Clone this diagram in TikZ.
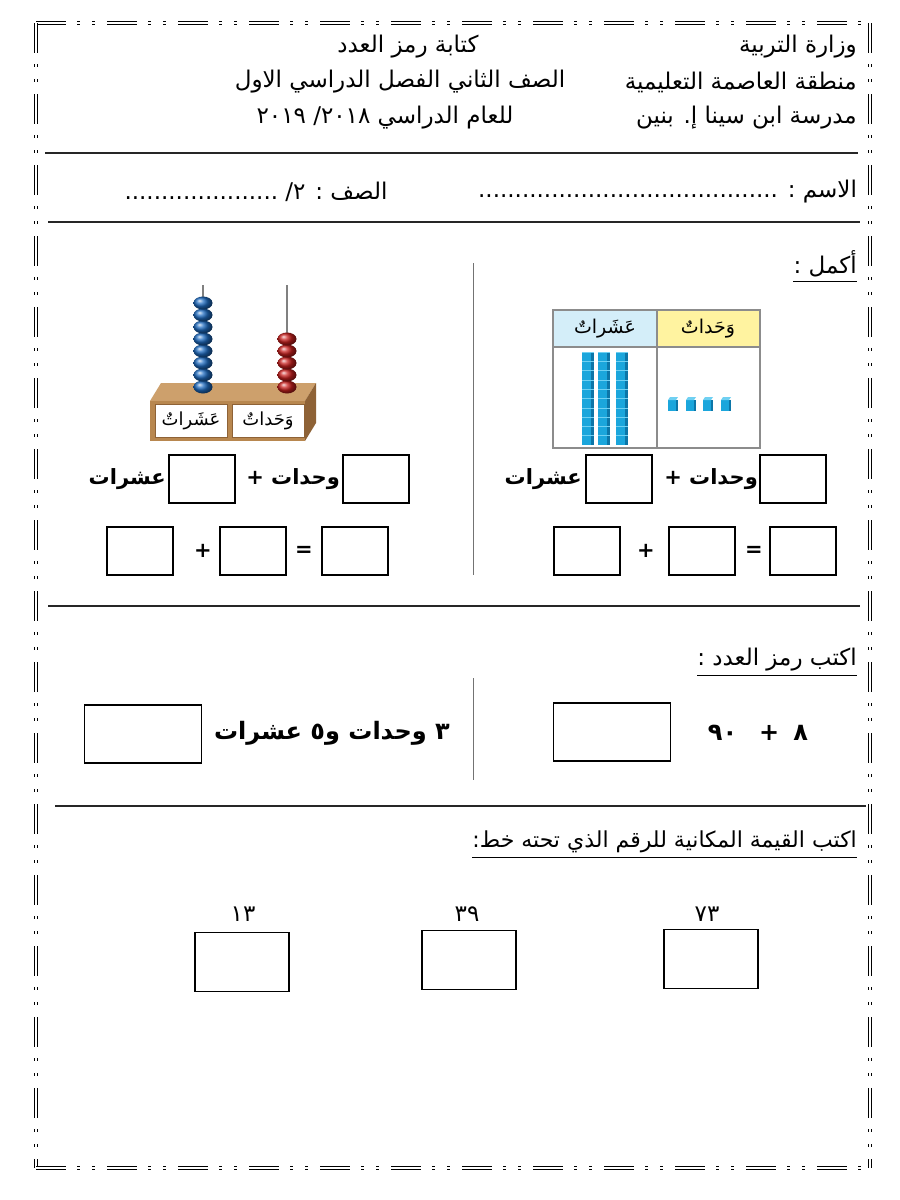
\documentclass[tikz,border=0pt]{standalone}
\usepackage{fontspec}
\usepackage{xcolor}
\newfontfamily\arabicfont[Script=Arabic]{DejaVu Sans}
\TeXXeTstate=1

\definecolor{tensbg}{HTML}{D4EEF9}
\definecolor{onesbg}{HTML}{FFF3A0}
\definecolor{cubefront}{HTML}{1BA6DC}
\definecolor{cubeside}{HTML}{0C76A8}
\definecolor{cubetop}{HTML}{6FD0F2}
\definecolor{woodfront}{HTML}{B8874F}
\definecolor{woodtop}{HTML}{CDA06C}
\definecolor{woodside}{HTML}{8E6236}
\definecolor{beadblue}{HTML}{1E6BC0}
\definecolor{beadred}{HTML}{C8201E}

\tikzset{
  frameline/.style={double, line width=1.3pt, double distance=1.2pt,
    dash pattern=on 30pt off 11pt on 3pt off 12pt on 3pt off 12pt},
  sepline/.style={line width=1.6pt, black!85},
  divline/.style={line width=0.8pt, black!55},
  gridline/.style={line width=1.3pt, black!45},
  underline/.style={line width=1.3pt},
  ar/.style={font=\arabicfont\fontsize{23}{27}\selectfont, inner sep=0pt},
  arb/.style={font=\arabicfont\bfseries\fontsize{21}{25}\selectfont, inner sep=0pt},
  arbig/.style={font=\arabicfont\bfseries\fontsize{24}{28}\selectfont, inner sep=0pt},
  arhead/.style={font=\arabicfont\fontsize{19}{23}\selectfont, inner sep=0pt},
  ansbox/.style={draw, line width=1.8pt, minimum width=66pt, minimum height=48pt, inner sep=0pt},
  bigbox/.style={draw, line width=1.8pt, minimum width=117pt, minimum height=58pt, inner sep=0pt},
  midbox/.style={draw, line width=1.8pt, minimum width=94pt, minimum height=59pt, inner sep=0pt},
  tag/.style={draw=woodside, line width=0.8pt, fill=white, minimum width=72pt, minimum height=33pt,
    inner sep=0pt, font=\arabicfont\fontsize{18}{22}\selectfont}
}

\begin{document}
\begin{tikzpicture}[x=1pt,y=-1pt]
    \useasboundingbox (0,0) rectangle (900,1200);
    \fill[white] (0,0) rectangle (900,1200);

    \coordinate (tl) at (36,23);
    \coordinate (tr) at (870,23);
    \coordinate (bl) at (36,1168);
    \coordinate (br) at (870,1168);
    \draw[frameline] (tl) -- (tr);
    \draw[frameline] (tl) -- (bl);
    \draw[frameline] (tr) -- (br);
    \draw[frameline] (bl) -- (br);

    % header
    \node[ar, anchor=east] (ministry) at (857,47) {\beginR وزارة التربية\endR};
    \node[ar] (title) at (408,47) {\beginR كتابة رمز العدد\endR};
    \node[ar, anchor=east] (region) at (857,82) {\beginR منطقة العاصمة التعليمية\endR};
    \node[ar] (grade) at (400,82) {\beginR الصف الثاني الفصل الدراسي الاول\endR};
    \node[ar, anchor=east] (school) at (857,118) {\beginR مدرسة ابن سينا إ. بنين\endR};
    \node[ar] (year) at (385,118) {\beginR للعام الدراسي ٢٠١٨\kern0pt/ ٢٠١٩\endR};
    \draw[sepline] (45,153) -- (858,153);

    \node[ar, anchor=east] (pupil) at (857,192) {\beginR الاسم : .........................................\endR};
    \node[ar] (class) at (256,192) {\beginR الصف : ٢\kern0pt/ .....................\endR};
    \draw[sepline] (48,222) -- (860,222);

    % part one
    \node[ar, anchor=east] (fill) at (857,264) {\beginR أكمل :\endR};
    \draw[underline] ([yshift=-4pt]fill.south west) -- ([yshift=-4pt]fill.south east);
    \draw[divline] (473,263) -- (473,575);

    \fill[tensbg] (553,310) rectangle (657,347);
    \fill[onesbg] (657,310) rectangle (760,347);
    \draw[gridline] (553,310) rectangle (760,448);
    \draw[gridline] (553,347) -- (760,347);
    \draw[gridline] (657,310) -- (657,448);
    \node[arhead] (tenshead) at (605,329) {\beginR عَشَراتٌ\endR};
    \node[arhead] (oneshead) at (708,329) {\beginR وَحَداتٌ\endR};
    \foreach \x in {582,598,616} {
        \foreach \i in {0,...,9} {
            \fill[cubefront] (\x,352+\i*9.3) rectangle ++(9,9.3);
            \fill[cubeside] (\x+9,352+\i*9.3) rectangle ++(3,9.3);
            \draw[cubetop, line width=0.6pt] (\x,352+\i*9.3) -- ++(12,0);
        }
    }
    \foreach \x in {668,686,703,721} {
        \fill[cubefront] (\x,400) rectangle ++(8,11);
        \fill[cubeside] (\x+8,400) rectangle ++(2,11);
        \fill[cubetop] (\x,400) -- (\x+2,397) -- (\x+10,397) -- (\x+8,400) -- cycle;
    }

    \fill[woodtop] (150,401) -- (161,383) -- (316,383) -- (305,401) -- cycle;
    \fill[woodside] (305,401) -- (316,383) -- (316,423) -- (305,441) -- cycle;
    \fill[woodfront] (150,401) rectangle (305,441);
    \node[tag] (tenstag) at (191,421) {\beginR عَشَراتٌ\endR};
    \node[tag] (onestag) at (268,421) {\beginR وَحَداتٌ\endR};
    \draw[black!50, line width=1.5pt] (203,285) -- (203,390);
    \draw[black!50, line width=1.5pt] (287,285) -- (287,390);
    \foreach \i in {0,...,7}
        \shade[ball color=beadblue] (203,387-\i*12) ellipse (9.5 and 6.5);
    \foreach \i in {0,...,4}
        \shade[ball color=beadred] (287,387-\i*12) ellipse (9.5 and 6.5);

    \node[ansbox] (ra) at (793,479) {};
    \node[arb, anchor=east] (runits) at (758,479) {\beginR وحدات +\endR};
    \node[ansbox] (rb) at (619,479) {};
    \node[arb, anchor=east] (rtens) at (582,479) {\beginR عشرات\endR};
    \node[ansbox] (rc) at (803,551) {};
    \node[arb] (req) at (754,551) {=};
    \node[ansbox] (rd) at (702,551) {};
    \node[arb] (rplus) at (646,551) {+};
    \node[ansbox] (re) at (587,551) {};

    \node[ansbox] (la) at (376,479) {};
    \node[arb, anchor=east] (lunits) at (340,479) {\beginR وحدات +\endR};
    \node[ansbox] (lb) at (202,479) {};
    \node[arb, anchor=east] (ltens) at (166,479) {\beginR عشرات\endR};
    \node[ansbox] (lc) at (355,551) {};
    \node[arb] (leq) at (304,551) {=};
    \node[ansbox] (ld) at (253,551) {};
    \node[arb] (lplus) at (203,551) {+};
    \node[ansbox] (le) at (140,551) {};
    \draw[sepline] (48,606) -- (860,606);

    % part two
    \node[ar, anchor=east] (write) at (857,660) {\beginR اكتب رمز العدد :\endR};
    \draw[underline] ([yshift=-4pt]write.south west) -- ([yshift=-4pt]write.south east);
    \draw[divline] (473,678) -- (473,780);
    \node[bigbox] (rsum) at (612,732) {};
    \node[arbig] (sum) at (758,733) {\beginR ٨\hspace{14pt}+\hspace{22pt}٩٠\endR};
    \node[bigbox] (lsum) at (143,734) {};
    \node[arbig, anchor=east] (words) at (450,733) {\beginR ٣ وحدات و٥ عشرات\endR};
    \draw[sepline] (55,806) -- (866,806);

    % part three
    \node[ar, font=\arabicfont\fontsize{22}{26}\selectfont, anchor=east] (place) at (857,842)
        {\beginR اكتب القيمة المكانية للرقم الذي تحته خط:\endR};
    \draw[underline] ([yshift=-4pt]place.south west) -- ([yshift=-4pt]place.south east);
    \node[ar] (numa) at (707,914) {٧٣};
    \node[midbox] (boxa) at (711,959) {};
    \node[ar] (numb) at (467,914) {٣٩};
    \node[midbox] (boxb) at (469,960) {};
    \node[ar] (numc) at (243,914) {١٣};
    \node[midbox] (boxc) at (242,962) {};
\end{tikzpicture}
\end{document}
